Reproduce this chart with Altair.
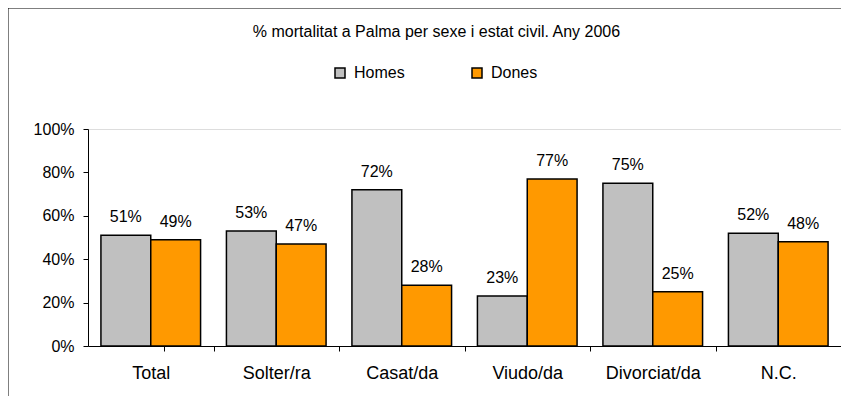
import altair as alt
import pandas as pd

estats = ["Total", "Solter/ra", "Casat/da", "Viudo/da", "Divorciat/da", "N.C."]
homes = [51, 53, 72, 23, 75, 52]
dones = [49, 47, 28, 77, 25, 48]
sexes = ["Homes", "Dones"]
colors = ["#C0C0C0", "#FF9900"]
y_ticks = [0, 0.2, 0.4, 0.6, 0.8, 1.0]
title_text = "% mortalitat a Palma per sexe i estat civil. Any 2006"

rows = []
for e, h, d in zip(estats, homes, dones):
    rows.append({"estat": e, "sexe": "Homes", "valor": h / 100})
    rows.append({"estat": e, "sexe": "Dones", "valor": d / 100})
df = pd.DataFrame(rows)

FONT = "Liberation Sans"
W, H = 753, 217
STEP = W / 6

x_enc = alt.X(
    "estat:N", sort=estats, title=None,
    scale=alt.Scale(paddingInner=0.206, paddingOuter=0.103),
    axis=alt.Axis(labelAngle=0, tickOffset=STEP / 2, labelOffset=-STEP / 2, tickExtra=True,
                  domainColor="black", tickColor="black", tickSize=5,
                  labelFontSize=18, labelFont=FONT, labelColor="black",
                  labelPadding=13),
)
xoff = alt.XOffset("sexe:N", sort=sexes, scale=alt.Scale(paddingInner=0, paddingOuter=0))
y_enc = alt.Y(
    "valor:Q", title=None,
    scale=alt.Scale(domain=[0, 1], nice=False, zero=True),
    axis=alt.Axis(values=y_ticks, format=".0%", grid=False, domainColor="black",
                  tickColor="black", tickSize=5, labelFontSize=16, labelFont=FONT,
                  labelColor="black", labelPadding=9),
)
color_enc = alt.Color(
    "sexe:N", sort=sexes,
    scale=alt.Scale(domain=sexes, range=colors),
    legend=alt.Legend(orient="none", legendX=244, legendY=-64, direction="horizontal",
                      title=None, symbolType="square", symbolSize=100,
                      symbolStrokeColor="black", symbolStrokeWidth=1.5,
                      labelFontSize=16, labelFont=FONT, labelColor="black",
                      columnPadding=64, labelOffset=6),
)

bars = alt.Chart(df).mark_bar(stroke="black", strokeWidth=1.5).encode(
    x=x_enc, xOffset=xoff, y=y_enc, color=color_enc
)
labels = alt.Chart(df).mark_text(
    baseline="alphabetic", dy=-13, fontSize=16, font=FONT, color="black"
).encode(
    x=alt.X("estat:N", sort=estats), xOffset=alt.XOffset("sexe:N", sort=sexes),
    y="valor:Q", text=alt.Text("valor:Q", format=".0%")
)
frame = alt.Chart(pd.DataFrame({"f": [0]})).mark_rect(
    fill="transparent", stroke="black", strokeWidth=1
).encode(
    x=alt.value(-80), y=alt.value(-121), x2=alt.value(3000), y2=alt.value(3000)
)

chart = alt.layer(frame, bars, labels).properties(
    width=W, height=H,
    title=alt.TitleParams(title_text, fontSize=16, font=FONT, fontWeight="normal",
                          color="black", anchor="middle", frame="group", dx=-28, dy=36),
    autosize=alt.AutoSizeParams(type="none"),
    padding={"left": 80, "top": 121, "right": 0, "bottom": 50},
).configure_view(strokeWidth=0).configure(background="white")

chart.save("out.html", embed_options={"renderer": "svg", "actions": False})
